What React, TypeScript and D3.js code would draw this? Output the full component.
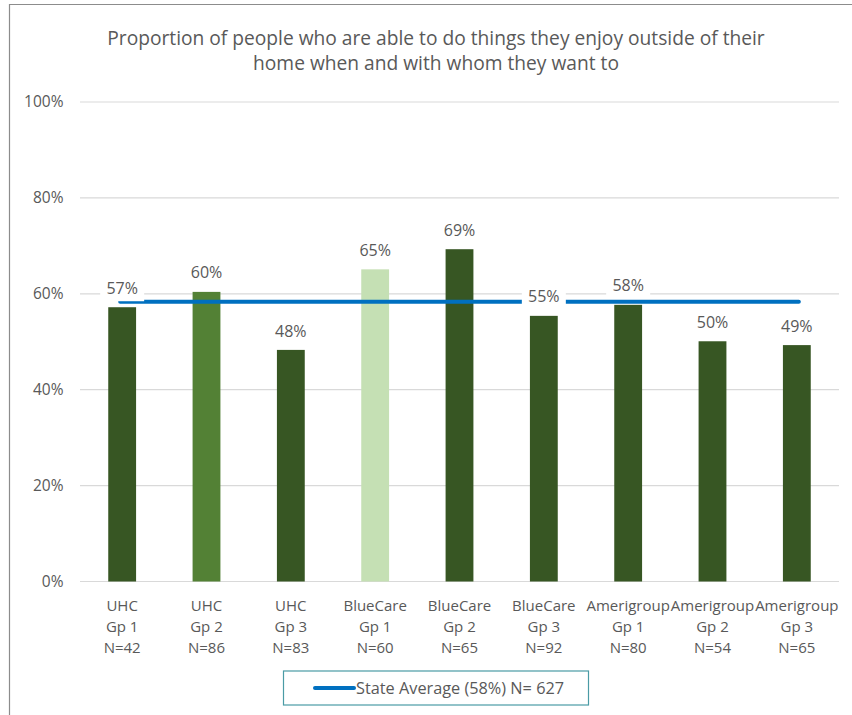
import React from "react";
import * as d3 from "d3";

const categories = [
  ["UHC", "Gp 1", "N=42"],
  ["UHC", "Gp 2", "N=86"],
  ["UHC", "Gp 3", "N=83"],
  ["BlueCare", "Gp 1", "N=60"],
  ["BlueCare", "Gp 2", "N=65"],
  ["BlueCare", "Gp 3", "N=92"],
  ["Amerigroup", "Gp 1", "N=80"],
  ["Amerigroup", "Gp 2", "N=54"],
  ["Amerigroup", "Gp 3", "N=65"],
];
const values = [0.572, 0.604, 0.483, 0.651, 0.693, 0.554, 0.577, 0.501, 0.493];
const barColors = ["#375623", "#538135", "#375623", "#C5E0B4", "#375623", "#375623", "#375623", "#375623", "#375623"];
const stateAverage = 0.5835;
const yTicks = [0, 0.2, 0.4, 0.6, 0.8, 1.0];
const titleLines = [
  "Proportion of people who are able to do things they enjoy outside of their",
  "home when and with whom they want to",
];
const legendLabel = "State Average (58%) N= 627";

const W = 852;
const H = 715;
const FONT = "'Open Sans', sans-serif";
const TEXT = "#595959";

export default function App() {
  const x = d3
    .scaleBand<number>()
    .domain(d3.range(categories.length))
    .range([80, 839])
    .paddingInner(0.67)
    .paddingOuter(0.335);
  const y = d3.scaleLinear().domain([0, 1]).range([581.5, 102]);
  const fmt = d3.format(".0%");
  const cx = (i: number) => (x(i) as number) + x.bandwidth() / 2;

  const lineGen = d3
    .line<number>()
    .x((d) => d)
    .y(() => y(stateAverage));

  return (
    <svg
      width={W}
      height={H}
      style={{ position: "absolute", left: 0, top: 0, background: "#fff" }}
      fontFamily={FONT}
    >
      <rect x={0} y={0} width={W} height={H} fill="#fff" />
      {/* outer frame */}
      <line x1={9.5} y1={4} x2={9.5} y2={H} stroke="#8c8c8c" strokeWidth={1.2} />
      <line x1={9} y1={4.5} x2={W} y2={4.5} stroke="#8c8c8c" strokeWidth={1.2} />

      {/* title */}
      {titleLines.map((t, i) => (
        <text
          key={i}
          x={436}
          y={45 + i * 25}
          textAnchor="middle"
          fontSize={19.2}
          fill={TEXT}
        >
          {t}
        </text>
      ))}

      {/* gridlines and y labels */}
      {yTicks.map((t) => (
        <g key={t}>
          <line
            x1={80}
            x2={839}
            y1={y(t)}
            y2={y(t)}
            stroke="#d9d9d9"
            strokeWidth={1.2}
          />
          <text
            x={63.5}
            y={y(t)}
            dy="0.35em"
            textAnchor="end"
            fontSize={15.5}
            fill={TEXT}
          >
            {fmt(t)}
          </text>
        </g>
      ))}

      {/* bars */}
      {values.map((v, i) => (
        <rect
          key={i}
          x={x(i)}
          y={y(v)}
          width={x.bandwidth()}
          height={y(0) - y(v)}
          fill={barColors[i]}
        />
      ))}

      {/* state average line */}
      <path
        d={lineGen([cx(0) - 2, cx(categories.length - 1) + 2]) || ""}
        stroke="#0070C0"
        strokeWidth={4}
        strokeLinecap="round"
        fill="none"
      />

      {/* data labels */}
      {values.map((v, i) => {
        const ly = y(v) - 19;
        return (
          <g key={i}>
            <rect x={cx(i) - 22} y={ly - 13} width={44} height={26} fill="#fff" />
            <text
              x={cx(i)}
              y={ly}
              dy="0.35em"
              textAnchor="middle"
              fontSize={16}
              fill={TEXT}
            >
              {fmt(Math.round(v * 100) / 100)}
            </text>
          </g>
        );
      })}

      {/* x labels */}
      {categories.map((lines, i) => (
        <text key={i} x={cx(i)} textAnchor="middle" fontSize={15} fill={TEXT}>
          {lines.map((l, j) => (
            <tspan key={j} x={cx(i)} y={610.5 + j * 21}>
              {l}
            </tspan>
          ))}
        </text>
      ))}

      {/* legend */}
      <rect
        x={283.5}
        y={671}
        width={305}
        height={34}
        fill="#fff"
        stroke="#4a9ba5"
        strokeWidth={1.2}
      />
      <line
        x1={315}
        x2={354}
        y1={688}
        y2={688}
        stroke="#0070C0"
        strokeWidth={4}
        strokeLinecap="round"
      />
      <text x={356} y={688} dy="0.35em" fontSize={16.3} fill={TEXT}>
        {legendLabel}
      </text>
    </svg>
  );
}
